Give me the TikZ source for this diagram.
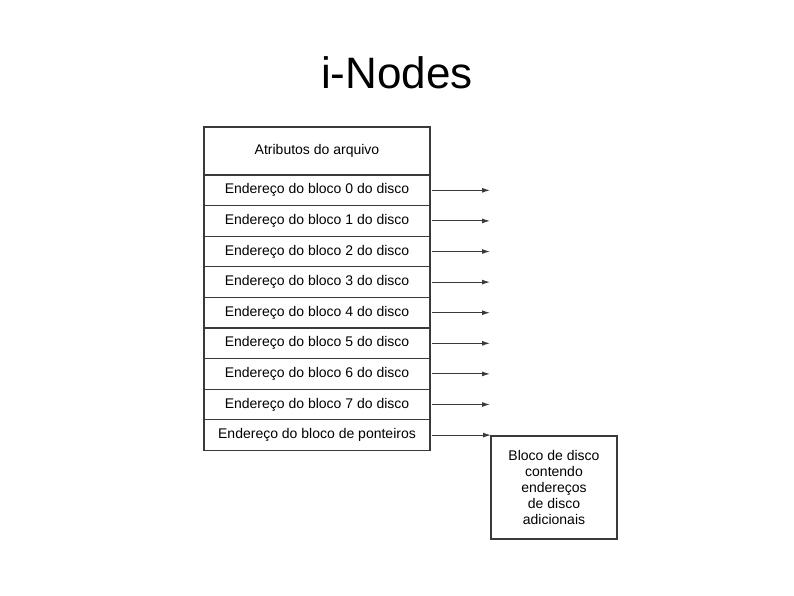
\documentclass[tikz,border=0pt]{standalone}
\usepackage{fontspec}
\setmainfont{Liberation Sans}
\usetikzlibrary{arrows.meta,positioning}
\definecolor{inkgray}{HTML}{3A3A3A}
\tikzset{
  ptrarrow/.style={-{Latex[length=8pt,width=5pt]}, draw=inkgray, line width=1.1pt, shorten <=2pt},
  cell/.style={draw=inkgray, line width=1.2pt, minimum width=226pt, minimum height=30.6pt,
    inner sep=0pt, outer sep=0pt, font=\fontsize{14}{16}\selectfont},
  attrcell/.style={cell, minimum height=48pt},
  diskblock/.style={draw=inkgray, line width=1.2pt, minimum width=126pt, minimum height=103pt,
    inner sep=0pt, outer sep=0pt, align=center, font=\fontsize{14}{15.8}\selectfont},
  titletext/.style={font=\fontsize{44}{50}\selectfont}
}
\begin{document}
\begin{tikzpicture}[x=1pt, y=-1pt, node distance=0pt]
  \useasboundingbox (0,0) rectangle (794,595);
  \node[titletext] (title) at (397,73) {i-Nodes};
  % i-node table
  \node[attrcell, anchor=north west] (attr) at (204,127) {Atributos do arquivo};
  \node[cell, below=of attr] (b0) {Endereço do bloco 0 do disco};
  \node[cell, below=of b0] (b1) {Endereço do bloco 1 do disco};
  \node[cell, below=of b1] (b2) {Endereço do bloco 2 do disco};
  \node[cell, below=of b2] (b3) {Endereço do bloco 3 do disco};
  \node[cell, below=of b3] (b4) {Endereço do bloco 4 do disco};
  \node[cell, below=of b4] (b5) {Endereço do bloco 5 do disco};
  \node[cell, below=of b5] (b6) {Endereço do bloco 6 do disco};
  \node[cell, below=of b6] (b7) {Endereço do bloco 7 do disco};
  \node[cell, below=of b7] (ptr) {Endereço do bloco de ponteiros};
  % indirect block
  \node[diskblock, anchor=north west] (blk) at (491,436)
    {Bloco de disco\\contendo\\endereços\\de disco\\adicionais};
  % free ends of the pointers
  \coordinate[right=60pt of b0.east] (p0);
  \coordinate[right=60pt of b1.east] (p1);
  \coordinate[right=60pt of b2.east] (p2);
  \coordinate[right=60pt of b3.east] (p3);
  \coordinate[right=60pt of b4.east] (p4);
  \coordinate[right=60pt of b5.east] (p5);
  \coordinate[right=60pt of b6.east] (p6);
  \coordinate[right=60pt of b7.east] (p7);
  \draw[ptrarrow] (b0.east) -- (p0);
  \draw[ptrarrow] (b1.east) -- (p1);
  \draw[ptrarrow] (b2.east) -- (p2);
  \draw[ptrarrow] (b3.east) -- (p3);
  \draw[ptrarrow] (b4.east) -- (p4);
  \draw[ptrarrow] (b5.east) -- (p5);
  \draw[ptrarrow] (b6.east) -- (p6);
  \draw[ptrarrow] (b7.east) -- (p7);
  \draw[ptrarrow] (ptr.east) -- (ptr.east -| blk.west);
\end{tikzpicture}
\end{document}
